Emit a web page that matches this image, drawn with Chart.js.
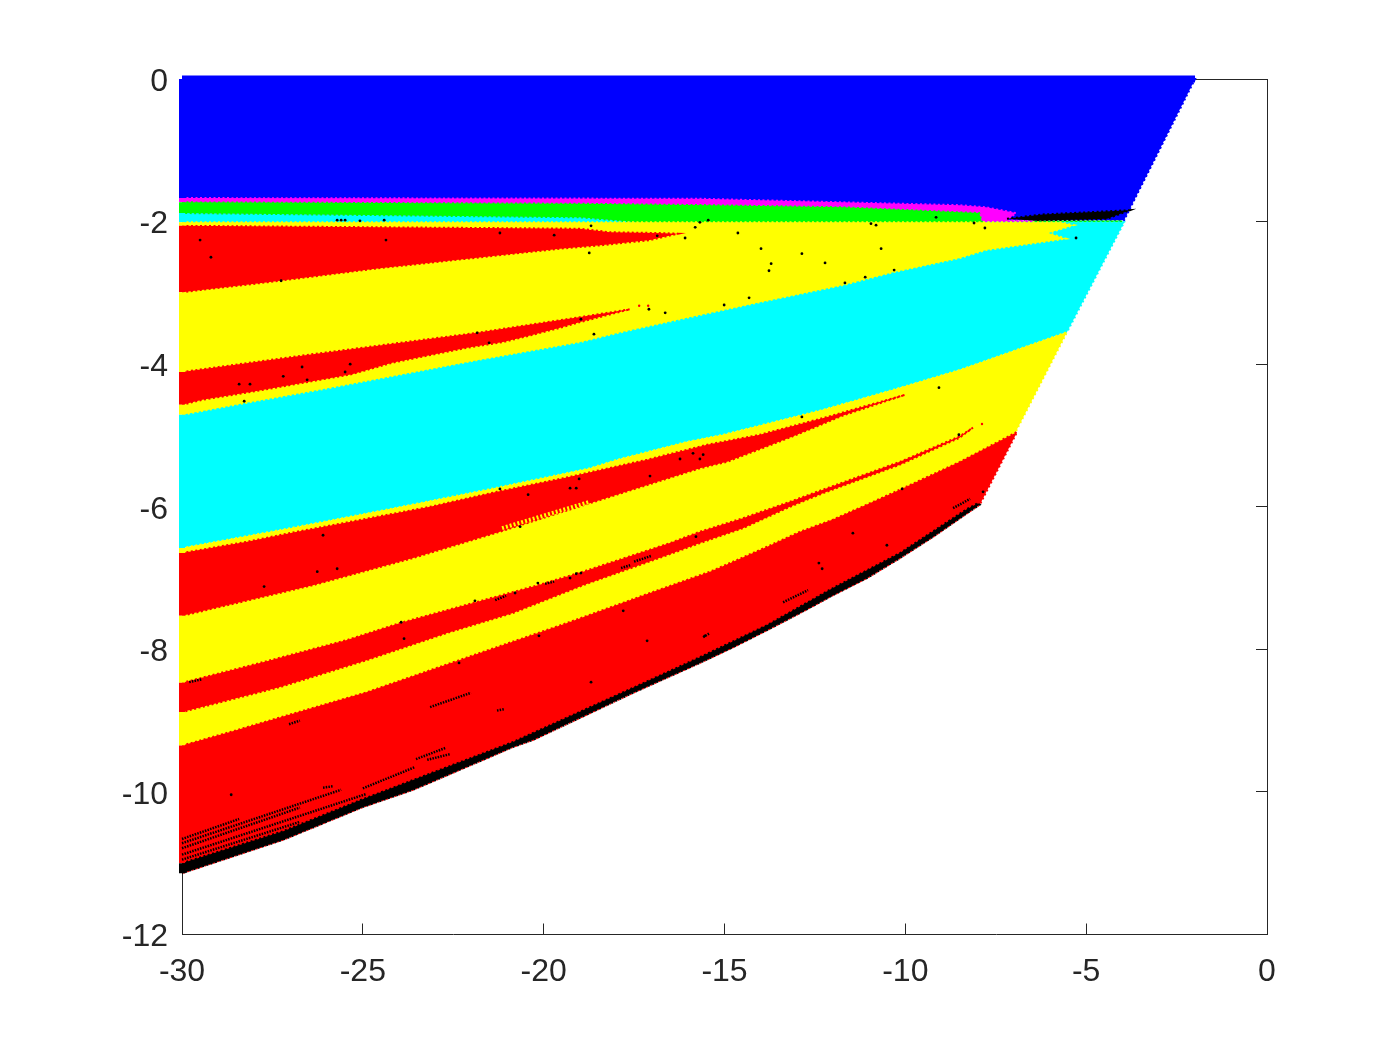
<!DOCTYPE html>
<html>
<head>
<meta charset="utf-8">
<title>Region map</title>
<script src="https://cdn.jsdelivr.net/npm/chart.js@4"></script>
<style>
  html, body { margin: 0; padding: 0; background: #fff; }
  canvas { display: block; }
</style>
</head>
<body>
<canvas id="regionChart" width="1400" height="1050"></canvas>
<script>
// tick labels
const xTickValues = [-30, -25, -20, -15, -10, -5, 0];
const yTickValues = [-12, -10, -8, -6, -4, -2, 0];

// regions, as [x, y], listed in paint order further down
const blueRegion = [[-30,0],[-1.99,0],[-3.95,-1.98],[-30,-1.98]];
const magentaRegion = [[-30,-1.67],[-15.68,-1.68],[-11.72,-1.73],[-8.49,-1.77],[-7.77,-1.80],[-6.94,-1.88],[-7.19,-1.98],[-6.44,-1.99],[-6.44,-2.03],[-30,-2.03]];
const blackWedge = [[-7.19,-1.96],[-6.20,-1.90],[-3.79,-1.84],[-4.42,-1.96],[-6.39,-1.99]];
const cyanMiddle = [[-30,-1.88],[-18.99,-1.94],[-17.33,-2.01],[-3.95,-2.01],[-5.53,-3.55],[-8.49,-4.08],[-10.34,-4.36],[-12.28,-4.64],[-15.04,-4.99],[-16.04,-5.09],[-17.97,-5.34],[-18.72,-5.46],[-21.56,-5.76],[-24.33,-6.04],[-27.01,-6.30],[-30,-6.58]];
const greenRegion = [[-30,-1.73],[-18.99,-1.75],[-15.40,-1.77],[-11.72,-1.80],[-8.49,-1.87],[-7.96,-1.88],[-7.88,-2.01],[-17.33,-2.01],[-18.99,-1.94],[-30,-1.88]];
const yellowUpper = [[-30,-2.01],[-5.72,-2.01],[-5.34,-2.05],[-6.05,-2.16],[-5.56,-2.24],[-7.77,-2.40],[-8.49,-2.51],[-10.34,-2.71],[-11.72,-2.89],[-14.02,-3.13],[-16.04,-3.35],[-17.94,-3.56],[-18.99,-3.69],[-21.81,-3.94],[-26.10,-4.35],[-28.53,-4.57],[-30,-4.71]];
const redUpperA = [[-30,-2.06],[-18.99,-2.10],[-18.16,-2.15],[-16.86,-2.16],[-16.28,-2.17],[-17.06,-2.26],[-18.36,-2.33],[-19.55,-2.38],[-24.66,-2.66],[-27.62,-2.85],[-30,-2.99]];
const redUpperB = [[-30,-4.11],[-26.54,-3.87],[-21.84,-3.56],[-18.99,-3.34],[-17.61,-3.23],[-18.99,-3.41],[-19.55,-3.49],[-20.32,-3.59],[-21.12,-3.69],[-22.12,-3.77],[-24.19,-3.98],[-25.30,-4.14],[-27.98,-4.38],[-29.44,-4.50],[-30,-4.57]];
const yellowLower = [[-30,-6.58],[-27.01,-6.30],[-24.33,-6.04],[-21.56,-5.76],[-18.72,-5.46],[-17.97,-5.34],[-16.04,-5.09],[-15.04,-4.99],[-12.28,-4.64],[-10.34,-4.36],[-8.49,-4.08],[-5.53,-3.55],[-6.95,-4.95],[-10.15,-6.2],[-15.4,-7.4],[-22,-8.6],[-30,-9.8]];
const redBandA = [[-30,-6.65],[-28.20,-6.49],[-26.82,-6.35],[-25.55,-6.23],[-23.14,-6.00],[-21.29,-5.79],[-19.46,-5.60],[-17.14,-5.34],[-15.48,-5.13],[-14.02,-4.99],[-12.16,-4.74],[-10.01,-4.43],[-11.72,-4.72],[-13.10,-5.01],[-14.93,-5.37],[-15.68,-5.46],[-18.72,-5.95],[-21.21,-6.35],[-23.61,-6.72],[-26.38,-7.10],[-30,-7.53]];
const redBandB = [[-30,-8.47],[-27.76,-8.18],[-25.44,-7.87],[-23.97,-7.63],[-21.95,-7.35],[-20.16,-7.10],[-18.91,-6.91],[-16.51,-6.51],[-15.68,-6.35],[-14.49,-6.16],[-13.19,-5.93],[-12.28,-5.76],[-10.15,-5.37],[-8.49,-5.01],[-8.13,-4.89],[-8.49,-5.03],[-10.15,-5.41],[-12.28,-5.81],[-13.19,-6.00],[-14.49,-6.30],[-15.68,-6.51],[-16.59,-6.68],[-18.91,-7.10],[-20.85,-7.49],[-22.67,-7.77],[-24.88,-8.15],[-27.29,-8.53],[-30,-8.88]];
const redBandC = [[-30,-9.35],[-28.67,-9.16],[-24.88,-8.60],[-21.76,-8.05],[-19.35,-7.63],[-17.06,-7.21],[-15.40,-6.91],[-14.76,-6.77],[-13.82,-6.56],[-12.91,-6.35],[-12.00,-6.18],[-11.06,-5.97],[-10.15,-5.76],[-8.49,-5.37],[-6.91,-4.95],[-7.94,-5.97],[-8.29,-6.09],[-9.23,-6.42],[-10.15,-6.72],[-11.06,-7.00],[-12.00,-7.24],[-12.91,-7.49],[-13.82,-7.73],[-14.76,-7.97],[-15.68,-8.19],[-17.53,-8.61],[-20.29,-9.27],[-20.85,-9.37],[-23.61,-9.97],[-24.99,-10.21],[-27.20,-10.67],[-30,-11.14]];
const blackEdge = [[-30,-11.00],[-27.20,-10.55],[-24.99,-10.10],[-20.85,-9.30],[-17.53,-8.54],[-15.68,-8.11],[-13.82,-7.66],[-12.00,-7.14],[-10.15,-6.65],[-8.29,-6.03],[-7.99,-5.95],[-7.94,-5.97],[-8.29,-6.09],[-9.23,-6.42],[-10.15,-6.72],[-11.06,-7.00],[-12.00,-7.24],[-12.91,-7.49],[-13.82,-7.73],[-14.76,-7.97],[-15.68,-8.19],[-17.53,-8.61],[-20.29,-9.27],[-20.85,-9.37],[-23.61,-9.97],[-24.99,-10.21],[-27.20,-10.67],[-30,-11.14]];

// colour bands along the left side, top to bottom
const leftEdgeStops = [0,-1.67,-1.73,-1.88,-2.01,-2.06,-2.99,-4.11,-4.57,-4.71,-6.58,-6.65,-7.53,-8.47,-8.88,-9.35,-11,-11.14];
const leftEdgeColors = ['#0000ff','#ff00ff','#00ff00','#00ffff','#ffff00','#ff0000','#ffff00','#ff0000','#ffff00','#00ffff','#ffff00','#ff0000','#ffff00','#ff0000','#ffff00','#ff0000','#000000'];

// stray black marks
const speckX = [-29.50,-29.20,-27.26,-24.36,-25.71,-25.60,-25.49,-25.08,-24.41,-21.21,-19.71,-18.69,-18.74,-16.86,-16.09,-15.81,-15.68,-15.45,-28.42,-28.12,-27.20,-26.68,-26.54,-25.35,-25.49,-28.28,-21.84,-21.51,-18.97,-18.61,-17.09,-16.64,-14.63,-13.99,-13.71,-13.77,-12.86,-12.22,-10.67,-10.31,-11.11,-11.67,-14.32,-15.01,-10.95,-10.81,-9.15,-8.10,-7.80,-5.28,-9.07,-12.86,-21.21,-20.43,-19.27,-19.10,-19.02,-17.06,-16.23,-15.87,-15.68,-15.59,-26.10,-26.26,-25.71,-27.73,-20.65,-15.79,-20.16,-21.90,-20.79,-19.27,-19.10,-18.97,-23.94,-23.86,-22.34,-20.13,-17.80,-17.14,-15.54,-18.69,-8.52,-10.09,-7.85,-11.45,-10.51,-12.39,-12.30,-28.64];
const speckY = [-2.26,-2.50,-2.83,-2.26,-1.98,-1.98,-1.98,-1.99,-1.98,-2.16,-2.19,-2.06,-2.44,-2.20,-2.23,-2.08,-2.01,-1.98,-4.28,-4.28,-4.17,-4.04,-4.22,-4.00,-4.11,-4.52,-3.56,-3.70,-3.37,-3.58,-3.23,-3.28,-2.16,-2.38,-2.59,-2.69,-2.45,-2.58,-2.38,-2.68,-2.78,-2.86,-3.07,-3.17,-2.03,-2.05,-1.94,-2.02,-2.09,-2.23,-4.33,-4.74,-5.75,-5.83,-5.74,-5.74,-5.61,-5.57,-5.33,-5.25,-5.33,-5.27,-6.40,-6.91,-6.87,-7.12,-6.28,-6.42,-7.07,-7.32,-7.21,-7.00,-6.94,-6.93,-7.62,-7.85,-8.19,-7.81,-7.46,-7.88,-7.81,-8.46,-4.99,-5.75,-5.79,-6.37,-6.54,-6.79,-6.87,-10.04];

// rows of black marks: [x1, y1, x2, y2]
const speckRows = [
  [-30,-10.66,-28.42,-10.38],[-30,-10.72,-25.60,-9.97],[-30,-10.79,-26.74,-10.22],[-30,-10.88,-24.91,-10.03],[-30,-10.95,-26.74,-10.42],
  [-25.00,-9.95,-23.55,-9.65],[-26.10,-9.94,-25.82,-9.92],[-23.53,-9.54,-22.70,-9.38],[-23.22,-9.55,-22.59,-9.47],[-23.14,-8.81,-22.01,-8.61],[-27.04,-9.05,-26.74,-9.00],
  [-21.29,-8.86,-21.10,-8.84],[-17.86,-6.86,-17.61,-6.82],[-17.50,-6.77,-17.03,-6.69],[-29.80,-8.46,-29.44,-8.42],[-21.34,-7.31,-21.04,-7.25],
  [-19.96,-7.08,-19.71,-7.05],[-13.38,-7.34,-12.69,-7.17],[-8.68,-6.02,-8.21,-5.89],[-15.59,-7.83,-15.43,-7.78]
];
// yellow dither inside the upper red band
const ditherRow = [[-21.15,-6.30],[-18.72,-5.93]];
const redSpeckX = [-17.36,-17.11,-7.88];
const redSpeckY = [-3.18,-3.18,-4.84];

const inkColor = '#262626';
const toPoints = arr => arr.map(p => ({x: p[0], y: p[1]}));

// dashed border in the same colour gives the sawtooth edge of the grid
function region(points, color) {
  return {data: toPoints(points), showLine: true, fill: 'shape', backgroundColor: color,
    borderColor: color, borderWidth: 2, borderDash: [2,2.5], pointRadius: 0, clip: false};
}
function stroke(points, color, width, dash) {
  return {data: toPoints(points), showLine: true, fill: false, borderColor: color,
    borderWidth: width, borderDash: dash || [], pointRadius: 0, clip: false};
}
function dots(xs, ys, color, r) {
  return {data: xs.map((x, i) => ({x: x, y: ys[i]})), showLine: false, backgroundColor: color,
    borderWidth: 0, pointRadius: r, clip: false};
}

// paint order: first in this list ends up underneath
const layers = [
  region(blueRegion, '#0000ff'),
  region(magentaRegion, '#ff00ff'),
  stroke([[-6.44,-2.0],[-4.0,-2.0]], '#00ff00', 2),
  region(cyanMiddle, '#00ffff'),
  region(greenRegion, '#00ff00'),
  region(blackWedge, '#000000'),
  region(yellowUpper, '#ffff00'),
  region(redUpperA, '#ff0000'),
  region(redUpperB, '#ff0000'),
  region(yellowLower, '#ffff00'),
  region(redBandA, '#ff0000'),
  region(redBandB, '#ff0000'),
  region(redBandC, '#ff0000'),
  region(blackEdge, '#000000'),
  stroke([[-30,0],[-1.99,0]], '#0000ff', 7)
];
leftEdgeColors.forEach((c, i) => {
  layers.push(stroke([[-30,leftEdgeStops[i]],[-30,leftEdgeStops[i+1]]], c, 6));
});
layers.push(stroke(ditherRow, '#ffff00', 4, [2,2]));
speckRows.forEach(r => {
  layers.push(stroke([[r[0],r[1]],[r[2],r[3]]], '#000000', 2.5, [1.5,1.2]));
});
layers.push(dots(redSpeckX, redSpeckY, '#ff0000', 1.2));
layers.push(dots(speckX, speckY, '#000000', 1.4));
// chart.js paints the lowest order last
layers.forEach((d, i) => { d.order = layers.length - i; });

function axisBase(min, max, tickList, showLabels, padding, labelOffset) {
  return {
    type: 'linear', min: min, max: max,
    afterBuildTicks: s => { s.ticks = tickList.map(v => ({value: v})); },
    border: {display: true, color: inkColor, width: 1},
    grid: {drawOnChartArea: false, drawTicks: true, tickLength: -11, tickColor: inkColor, tickWidth: 1},
    ticks: {display: showLabels, autoSkip: false, maxRotation: 0, minRotation: 0, padding: padding, labelOffset: labelOffset, color: inkColor,
      font: {family: '"Liberation Sans", Arial, sans-serif', size: 32},
      callback: v => String(v)}
  };
}

const ctx = document.getElementById('regionChart').getContext('2d');
const regionChart = new Chart(ctx, {
  type: 'scatter',
  data: {datasets: layers},
  options: {
    responsive: false,
    animation: false,
    events: [],
    layout: {padding: 0},
    plugins: {legend: {display: false}, tooltip: {enabled: false}},
    scales: {
      x: Object.assign(axisBase(-30, 0, xTickValues, true, 29, 0), {position: 'bottom', afterFit: s => { s.height = 115.5; }}),
      y: Object.assign(axisBase(-12, 0, yTickValues, true, 25, 3), {position: 'left', afterFit: s => { s.width = 182; }}),
      x2: Object.assign(axisBase(-30, 0, xTickValues, false, 0, 0), {position: 'top', afterFit: s => { s.height = 79; }}),
      y2: Object.assign(axisBase(-12, 0, yTickValues, false, 0, 0), {position: 'right', afterFit: s => { s.width = 133; }})
    }
  }
});
</script>
</body>
</html>
